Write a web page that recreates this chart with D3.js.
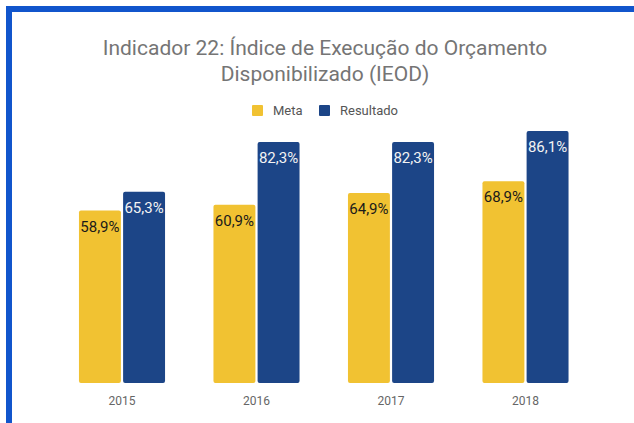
<!DOCTYPE html>
<html>
<head>
<meta charset="utf-8">
<script src="https://cdn.jsdelivr.net/npm/d3@7"></script>
<style>
  body { margin: 0; background: #fff; }
  svg { display: block; font-family: Roboto, "Noto Sans", sans-serif; }
</style>
</head>
<body>
<svg id="canvas" width="634" height="423"></svg>
<script>
const years = ["2015", "2016", "2017", "2018"];
const series = ["Meta", "Resultado"];
const meta = [58.9, 60.9, 64.9, 68.9];
const resultado = [65.3, 82.3, 82.3, 86.1];
const colors = ["#f1c232", "#1c4587"];
const labelColors = ["#1a1a1a", "#f3f3f3"];

const canvas = d3.select("#canvas");

// frame on top and left
canvas.append("rect").attr("x", 6).attr("y", 6).attr("width", 628).attr("height", 6).attr("fill", "#1155cc");
canvas.append("rect").attr("x", 6).attr("y", 6).attr("width", 6).attr("height", 417).attr("fill", "#1155cc");

// title
const title = canvas.append("text")
  .attr("text-anchor", "middle")
  .attr("fill", "#757575")
  .attr("font-size", 21);
title.append("tspan").attr("x", 325).attr("y", 55).text("Indicador 22: Índice de Execução do Orçamento");
title.append("tspan").attr("x", 325).attr("y", 81).text("Disponibilizado (IEOD)");

// legend
const legendX = [252, 319];
const legend = canvas.selectAll("g.legend").data(series).enter().append("g")
  .attr("transform", (d, i) => `translate(${legendX[i]},105)`);
legend.append("rect").attr("width", 11).attr("height", 11).attr("rx", 1)
  .attr("fill", (d, i) => colors[i]);
legend.append("text").attr("x", 21).attr("y", 10).attr("font-size", 13)
  .attr("fill", "#555").text(d => d);

// scales
const x = d3.scaleBand().domain(years).range([54.75, 592.75]).paddingInner(0.36).paddingOuter(0.18);
const xs = d3.scaleBand().domain(series).range([0, x.bandwidth()]).paddingInner(0.05);
const y = d3.scaleLinear().domain([0, 100]).range([383, 90.3]);

const data = years.map((yr, i) => ({ year: yr, values: [meta[i], resultado[i]] }));

const groups = canvas.selectAll("g.year").data(data).enter().append("g")
  .attr("transform", d => `translate(${x(d.year)},0)`);

const bars = groups.selectAll("g.bar")
  .data(d => d.values.map((v, i) => ({ key: series[i], value: v, idx: i })))
  .enter().append("g");

bars.append("rect")
  .attr("x", d => xs(d.key))
  .attr("y", d => y(d.value))
  .attr("width", xs.bandwidth())
  .attr("height", d => y(0) - y(d.value))
  .attr("rx", 2)
  .attr("fill", d => colors[d.idx]);

bars.append("text")
  .attr("x", d => xs(d.key) + xs.bandwidth() / 2)
  .attr("y", d => y(d.value) + 21)
  .attr("text-anchor", "middle")
  .attr("font-size", 15)
  .attr("fill", d => labelColors[d.idx])
  .text(d => d.value.toFixed(1).replace(".", ",") + "%");

// x axis labels
const axis = canvas.append("g").attr("transform", "translate(0,383)")
  .call(d3.axisBottom(x).tickSize(0).tickPadding(13));
axis.select(".domain").remove();
axis.selectAll("text").attr("font-size", 12).attr("fill", "#666").attr("font-family", "Roboto, sans-serif");
</script>
</body>
</html>
